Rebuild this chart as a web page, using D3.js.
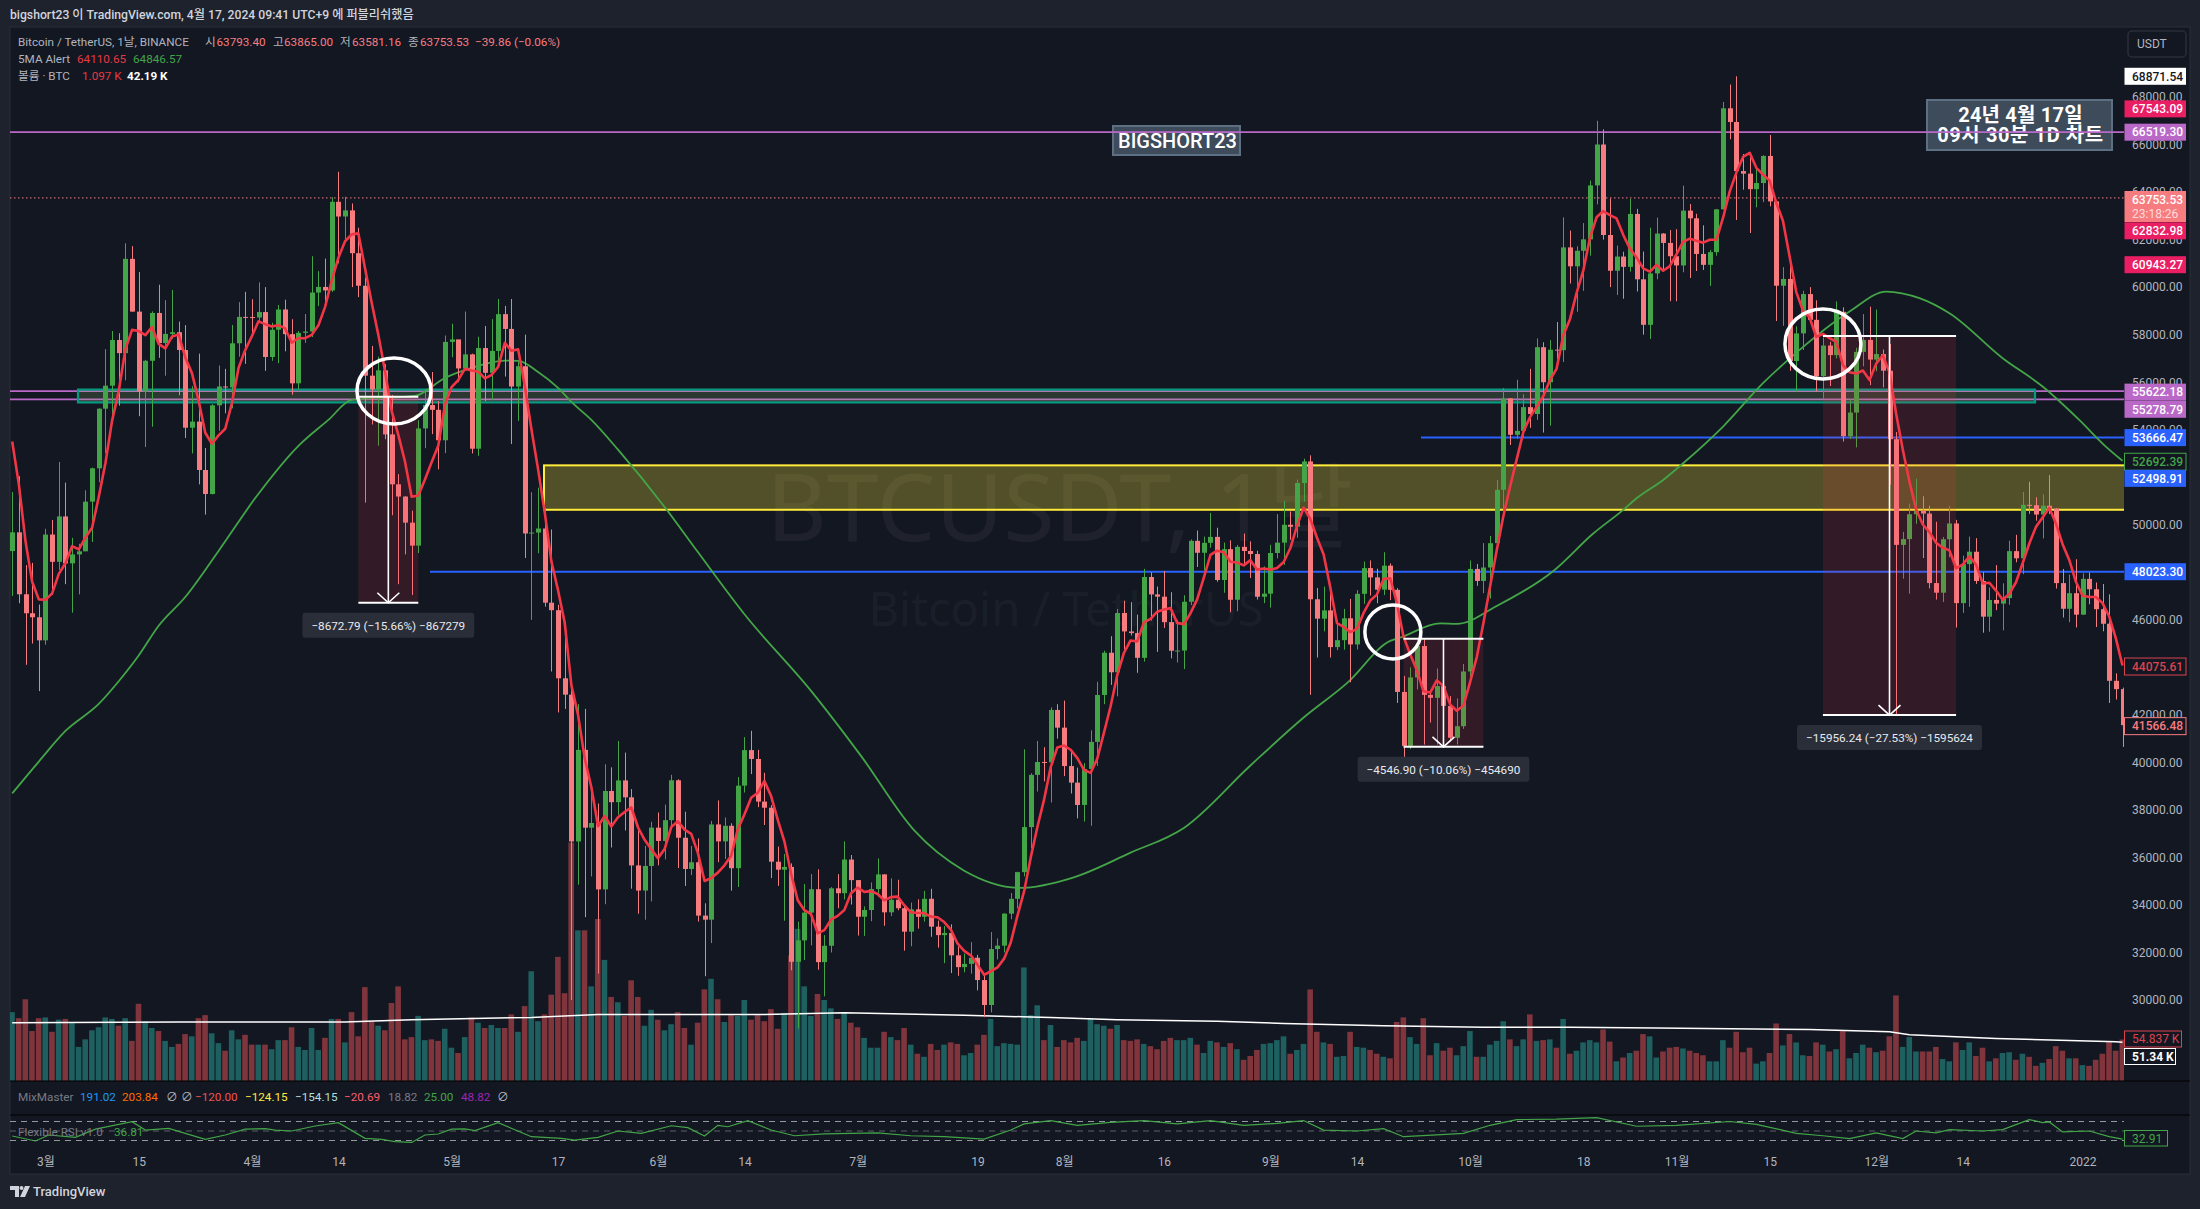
<!DOCTYPE html>
<html>
<head>
<meta charset="utf-8">
<script src="https://cdn.jsdelivr.net/npm/d3@7"></script>
<style>
  html, body { margin: 0; padding: 0; background: #1e222d; }
  svg { display: block; }
  text { font-family: Roboto, "Noto Sans CJK KR", sans-serif; }
</style>
</head>
<body>
<svg></svg>
<script>
// Daily candles, one line per month, starting on day 0 = 24 Feb 2021
const opens = [
48891,49680,47074,46276,46106,
45135,49587,48440,50349,48374,48751,48882,50971,52375,54884,55851,57773,57221,61188,58968,55605,56900,58912,57648,58030,58102,57351,54083,54340,52303,51293,55025,55817,55777,57635,58746,
58740,58720,58950,57059,58206,59058,58020,55950,58077,58131,59770,60007,59860,63589,62971,63229,61427,60058,56274,55696,56499,53801,51701,51187,50088,49121,54053,55036,54836,53555,
57694,57800,56578,57169,53200,57436,56393,57314,58862,58240,55816,56670,49631,49670,49841,46720,46404,43538,42849,36671,40526,37252,37449,34655,38796,38324,39241,38529,35664,34605,35641,
37253,36693,37568,39246,36829,35513,35796,33552,33380,37388,36675,37331,35546,39020,40516,40144,38349,38092,35820,35483,35600,31608,32509,33678,34663,31594,32283,34700,34494,35911,
35045,33504,33786,34669,35286,33690,34220,33862,32875,33815,33502,34259,33086,32729,32820,31880,31383,31520,31778,30839,29790,32144,32287,33634,34258,35381,37276,39473,40016,40000,42206,
41461,39845,39147,38207,39723,40862,42836,44614,43792,46285,45510,45440,44399,47800,47068,46973,45901,44695,44705,46760,49322,48821,49239,49488,47674,48973,46843,49069,48895,48767,46970,
47100,48810,49246,49999,49915,51756,52663,46863,46048,46395,44850,45143,46063,44963,47092,48176,47783,47267,48278,47260,42965,40693,43574,44895,42840,42716,43208,42376,41035,41522,
43824,48141,47634,48200,49224,51471,55315,53785,53951,54949,54659,57471,55996,57367,57347,61672,60875,61528,62009,64280,66001,62193,60688,61286,60852,63078,60328,58413,60575,62253,61859,
61299,60911,63219,62896,61395,60937,61470,63273,67525,66947,64882,64774,64122,64380,65519,63606,60058,60344,56891,58052,59707,58622,56247,57541,57138,58960,53726,54721,57274,57776,
56950,57184,56480,53601,49152,49396,50441,50588,50471,47545,47140,49389,50053,46702,48343,48864,47632,46131,46834,46681,46914,48889,48588,50838,50821,50429,50801,50679,47543,46464,47120,
46216,47722,47286,46446,45833,43432,43082
];
const highs = [
51374,52041,48300,48394,46640,
49829,50200,52640,51773,49448,49200,51450,52402,54900,57387,58150,58058,61844,61724,60633,56938,58981,60100,59450,59880,58550,58400,55830,57200,53229,55073,56700,56559,58405,59368,59800,
59490,60200,60000,58500,59250,59470,58650,58153,58869,61300,60670,61200,63777,64854,63800,63520,62500,60408,57526,57076,56757,55460,52130,51200,50591,54400,55700,56428,55200,57963,
58458,57200,58973,57200,57911,58360,58650,59500,59210,59500,56862,58000,51367,51560,50700,49800,46631,45800,43546,42451,42250,38850,38270,39920,39791,40900,40411,38877,37338,36488,37499,
37894,38225,39476,39289,37925,36480,36800,34068,37534,38400,37680,37436,39380,41064,41330,40527,39559,38200,36457,36139,35750,33298,34881,35298,35500,32730,34749,35297,36675,36100,
35036,33939,34945,35960,35293,35118,35059,33929,34100,34238,34592,34678,33340,33114,33185,32250,31950,32435,31899,31063,32858,32591,33650,34500,35398,40550,39542,40900,40640,42316,42448,
42599,40480,39780,39969,41350,43392,44700,45310,46454,46800,46743,46218,48144,48000,47400,48053,47160,46000,47033,49382,49757,49500,50500,49875,49250,49345,49149,49632,49300,48906,48246,
49156,50450,51000,50558,51900,52780,52920,47340,47399,47250,45970,46460,46880,47250,48450,48500,48150,48843,48372,47333,43639,44000,44978,45200,42966,43950,44350,42787,42690,44141,
48495,48350,49228,49530,51886,55750,55332,56100,55489,56561,57839,57680,57777,58532,62933,62379,61720,62695,64486,67000,66639,63732,61747,61490,63710,63293,61496,62499,62927,62274,62400,
62437,64270,63500,63086,62600,61560,63286,67789,68524,68871.54,65600,65450,65000,65550,66401,63500,60840,60977,58351,59845,60000,59444,57875,57700,59398,59150,55280,57445,58865,59176,
59053,57375,57600,53904,49699,50890,51936,51200,50797,50125,49485,50797,50205,48700,49500,49436,48004,47360,48300,47537,49328,49576,51375,51810,51156,51280,52088,50704,48139,47900,48548,
47954,47990,47570,47505,47070,43748,43145
];
const lows = [
47003,46700,44106,45000,43000,
44950,47047,48100,47500,46300,47070,48882,49274,51789,53005,54272,55013,56078,58966,54568,53271,54124,57023,56270,57820,55450,53650,53000,51700,50427,51278,53950,54691,54900,57072,56769,
57935,58500,56478,56900,56800,57300,55473,55700,57654,57900,59200,59369,59800,61000,62000,60000,59580,50931,54220,53329,53600,50400,47500,48753,47044,48807,53222,53813,52330,53013,
57050,56000,56488,53000,52900,55200,55241,56900,56235,53400,54370,48600,46000,48800,46555,43825,42103,42250,30000,34850,33488,35200,31111,34031,36419,37800,37134,34684,33632,33379,34153,
35666,35920,37170,35555,34800,35258,33300,31000,32396,35800,35936,34600,34757,38730,39506,38116,37365,35129,34803,33336,31251,28805,31683,32300,31275,30151,32000,33862,34231,34017,
32711,32699,33316,34357,33125,33532,33777,32077,32261,33004,33300,32660,32203,31550,31133,31020,31164,31108,30407,29278,29482,31708,32000,33401,33851,35205,36383,38772,39200,38313,41000,
39422,38690,37642,37508,37332,39853,42450,43261,42780,44750,45341,43770,44240,45971,44650,45660,44376,44203,43927,46622,48222,48070,49029,47600,47138,46315,46360,48300,47762,46853,46700,
46512,48584,48316,49370,49450,50969,42843,44412,45513,44412,44722,44742,43370,44750,46670,47020,46700,47044,46830,42500,39600,40565,43069,40750,41675,40750,42098,40888,40753,41410,
43283,47430,47120,46891,49020,50382,53357,53617,53661,54080,54415,53879,54167,56818,56850,60150,58963,59844,61322,63481,62000,60000,59668,59510,60650,59817,58000,57820,60329,60720,59405,
59405,60624,60382,60677,60721,60050,61322,63273,66222,62822,64100,62278,63360,63576,63400,58574,58373,56474,55600,57353,58486,55610,55317,55837,57000,53500,53610,53256,56666,55875,
56458,55777,51680,42000,47727,47100,50039,48600,47320,46852,46751,48633,45672,46290,46547,47511,45456,45500,46406,45558,46630,48421,47920,50459,50171,49426,50449,47313,46096,45900,45678,
46208,46654,45696,45516,42500,42645,40650
];
const closes = [
49680,47074,46276,46106,45135,
49587,48440,50349,48374,48751,48882,50971,52375,54884,55851,57773,57221,61188,58968,55605,56900,58912,57648,58030,58102,57351,54083,54340,52303,51293,55025,55817,55777,57635,58746,58740,
58720,58950,57059,58206,59058,58020,55950,58077,58131,59770,60007,59860,63589,62971,63229,61427,60058,56274,55696,56499,53801,51701,51187,50088,49121,54053,55036,54836,53555,57694,
57800,56578,57169,53200,57436,56393,57314,58862,58240,55816,56670,49631,49670,49841,46720,46404,43538,42849,36671,40526,37252,37449,34655,38796,38324,39241,38529,35664,34605,35641,37253,
36693,37568,39246,36829,35513,35796,33552,33380,37388,36675,37331,35546,39020,40516,40144,38349,38092,35820,35483,35600,31608,32509,33678,34663,31594,32283,34700,34494,35911,35045,
33504,33786,34669,35286,33690,34220,33862,32875,33815,33502,34259,33086,32729,32820,31880,31383,31520,31778,30839,29790,32144,32287,33634,34258,35381,37276,39473,40016,40000,42206,41461,
39845,39147,38207,39723,40862,42836,44614,43792,46285,45510,45440,44399,47800,47068,46973,45901,44695,44705,46760,49322,48821,49239,49488,47674,48973,46843,49069,48895,48767,46970,47100,
48810,49246,49999,49915,51756,52663,46863,46048,46395,44850,45143,46063,44963,47092,48176,47783,47267,48278,47260,42965,40693,43574,44895,42840,42716,43208,42376,41035,41522,43824,
48141,47634,48200,49224,51471,55315,53785,53951,54949,54659,57471,55996,57367,57347,61672,60875,61528,62009,64280,66001,62193,60688,61286,60852,63078,60328,58413,60575,62253,61859,61299,
60911,63219,62896,61395,60937,61470,63273,67525,66947,64882,64774,64122,64380,65519,63606,60058,60344,56891,58052,59707,58622,56247,57541,57138,58960,53726,54721,57274,57776,56950,
57184,56480,53601,49152,49396,50441,50588,50471,47545,47140,49389,50053,46702,48343,48864,47632,46131,46834,46681,46914,48889,48588,50838,50821,50429,50801,50679,47543,46464,47120,46216,
47722,47286,46446,45833,43432,43082,41566
];
// Volume in thousands of BTC
const volumes = [
91,83,108,66,83,
84,65,81,82,78,45,55,67,71,84,82,73,83,53,102,79,70,66,53,45,49,62,59,83,87,63,
50,40,67,55,61,48,48,48,42,54,54,71,45,41,70,41,57,82,82,51,91,59,124,78,73,67,103,125,55,58,86,54,55,53,69,
44,37,58,84,77,70,74,70,70,88,65,99,145,79,88,114,164,116,315,199,199,125,214,160,111,104,86,133,111,73,94,
81,67,75,91,70,48,77,121,135,108,78,87,86,107,81,87,79,95,69,90,166,201,125,86,115,107,96,82,90,77,
71,57,44,44,65,58,54,70,48,36,32,49,41,48,51,49,34,37,48,61,82,46,50,49,48,150,87,100,54,74,45,
54,51,57,53,83,75,73,69,74,54,53,55,49,46,42,53,57,54,54,57,48,37,53,51,45,50,42,28,33,41,49,
50,54,59,36,41,49,121,65,51,49,32,33,65,45,44,41,36,32,30,78,84,58,49,83,34,50,40,44,34,46,
66,32,32,48,53,79,55,46,55,88,53,54,55,44,82,36,40,51,54,51,68,52,26,31,37,40,62,59,31,39,44,
45,43,40,37,34,26,26,54,44,65,38,44,23,26,37,76,47,62,51,34,33,51,48,39,42,66,30,37,48,44,
38,40,59,113,45,58,39,39,39,45,29,26,51,41,51,33,44,26,30,37,38,28,36,32,20,24,29,46,40,30,30,
21,20,28,36,52,40,54.8
];
// Red 5MA line, one value per candle
const ma5 = [
53500,51700,49300,47600,46860,
46840,47110,47930,48380,49100,48960,49460,49870,51170,52590,54370,55620,57380,58200,58150,57980,58320,57610,57420,57920,58010,57040,56380,55230,53870,53410,
53760,54040,55110,56600,57350,57930,58560,58440,58340,58400,58260,57660,57860,57850,57990,58390,59170,60270,61240,61930,62220,62260,60790,59340,57990,56470,54790,53780,52660,51180,51230,51900,52630,53320,55040,
55790,56090,56560,56490,56440,56160,56300,56640,57650,57320,57380,55840,54010,52330,50510,48450,47230,45870,43240,42000,40170,38950,37310,37740,37300,37690,37910,38110,37270,36740,36340,
35970,36350,37280,37520,37170,36990,36190,35010,35130,35360,35670,36070,37190,37820,38510,38720,39220,38580,37580,36670,35320,34200,33780,33610,32810,32940,33380,33540,33790,34490,
34730,34550,34580,34460,34190,34330,34350,33990,33690,33660,33660,33510,33480,33280,32960,32380,32070,31880,31480,31060,31210,31370,31740,32420,33540,34570,36000,37280,38430,39800,40630,
40710,40530,40180,39680,39560,40160,41250,42360,43680,44610,45130,45090,45890,46040,46340,46430,46490,45870,45810,46280,46860,47770,48730,48910,48840,48440,48410,48290,48510,48110,48160,
48110,48180,48430,49020,49950,50720,50240,49450,48750,47360,45860,45700,45480,45620,46290,46810,47060,47720,47750,46710,45290,44550,43880,42990,42940,43450,43210,42440,42170,42390,
43380,44430,45860,47400,48930,50370,51600,52750,53900,54530,54960,55410,56090,56570,57970,58650,59760,60690,62070,62940,63200,63030,62890,62200,61620,61250,60790,60650,60930,60690,60880,
61380,61910,62040,61950,61870,61990,62000,62920,64030,64820,65480,65650,65020,64730,64480,63540,62780,61280,59790,59010,58720,57900,58030,57850,57700,56720,56420,56360,56490,56090,
56780,57130,56400,54670,53160,51810,50640,50010,49690,49240,49030,48920,48170,48320,48670,48320,47530,47560,47230,46840,47090,47580,48380,49210,49910,50300,50710,50050,49180,48520,47600,
47010,46960,46960,46700,46140,45220,44075.61
];
// Green long average, read at points along the line
const maLongDays = [0,4,8,13,16,19,22,26,31,37,43,47.5,51,60.5,65,69,74,76,79,82,84,87,91,98,103,110,120,127.5,135.5,143,151.5,159,168,176,186,194,200.5,207,208.5,214.5,217,223,231.5,237.5,242,244,248,251,257,263,268.5,276,281.5,286.5,291,299,305,310.5,314.5,317];
const maLongValues = [38695,40034,41321,42458,43413,44495,45750,46961,48899,51305,53320,54411,55253,55421,56175,56600,56906,56894,56431,55757,55168,54411,53160,50749,48850,46233,43010,40274,37134,35442,34718,35118,36199,37243,39869,41886,43333,45110,45248,45846,45825,46582,48054,49630,50627,51114,51886,52587,54132,55955,57357,58971,59812,59533,58900,57007,55816,54411,53289,52692];
// Volume average
const volMaDays = [0,25,50,60,78,88,113,125,143,153,156,166,181,191,206,221,234,247,270,282,285,298,316,317];
const volMaValues = [77,78,78,81,84,88,88,90,87,84.5,84,81,79,76,73,71,71,70,68,65,61,56,52,51.34];
// Flexible RSI
const rsiDays = [0,3.5,5.5,9.5,12.5,18,20,23.5,29,32,35,38,39.5,42,45.5,49,53,55.5,57.5,60,62,64,66,68,69.5,73,78,82.5,84.5,88,91,94.5,99,101.5,104,106,107.5,110.5,114,117.5,122,130,135,140,146,150,152,156,160,165,170,175,180,185,190,194,197,202,206,209,214,218,222,226,232,238,244,250,258,262,268,272,276,280,284,286,289,291,296,299,303,305,306,308,312,315,317];
const rsiValues = [39.5,29,41.6,36.7,54,69.6,52,55.6,32.5,41.6,54,55,52,50,60.5,67.5,34.6,32.5,27.5,26,41.6,43.7,54,54.5,50.7,67.5,38,34.6,31,36.7,50,45,61,57,39.5,62,59,71.7,52,40,44,46,40,38,33,52,65,72,62,68,72,65,72,62,66,72,52,50,55,38,42,45,62,74,75,78,60,62,70,64,45,40,34,46,34,50,46,53,50,53,74,67.7,69,48,50,38,32.91];
// Axis ticks (the ones under a price tag stay out)
const priceTicks = [68000,66000,64000,62000,60000,58000,56000,54000,50000,46000,42000,40000,38000,36000,34000,32000,30000];
const timeDays = [5,19,36,49,66,82,97,110,127,145,158,173,189,202,219,236,250,264,280,293,311];
const timeLabels = ["3월","15","4월","14","5월","17","6월","14","7월","19","8월","16","9월","14","10월","18","11월","15","12월","14","2022"];
// Price levels of the drawn lines
const purpleLevels = [66519.30,55622.18,55278.79];
const lastPrice = 63753.53;

// Declare the chart dimensions.
const width = 2200;
const height = 1209;
const paneLeft = 10;
const paneRight = 2124;
const paneTop = 27;
const frameRight = 2190;
const frameBottom = 1174;
const volumeBottom = 1081;
const mixBottom = 1115;

const upColor = "#43a548";
const downColor = "#f77c80";
const tagFont = 12;

// Declare the scales.
const x = d3.scaleLinear([0, 317], [12.2, 2122.5]);
const y = d3.scaleLinear([30000, 68000], [1000, 97]);
const yVolume = d3.scaleLinear([0, 100], [volumeBottom, volumeBottom - 75.7]);
const yRsi = d3.scaleLinear([30, 70], [1140.5, 1121.5]);

const svg = d3.select("svg")
    .attr("width", width)
    .attr("height", height)
    .attr("viewBox", [0, 0, width, height]);

// Frame and panes
svg.append("rect").attr("width", width).attr("height", height).attr("fill", "#1e222d");
svg.append("rect")
    .attr("x", paneLeft).attr("y", paneTop)
    .attr("width", frameRight - paneLeft).attr("height", frameBottom - paneTop)
    .attr("fill", "#131722")
    .attr("stroke", "#2a2e39")
    .attr("stroke-width", 1);

svg.append("defs").append("clipPath").attr("id", "plot")
    .append("rect")
    .attr("x", paneLeft).attr("y", paneTop)
    .attr("width", paneRight - paneLeft).attr("height", volumeBottom - paneTop);

const plot = svg.append("g").attr("clip-path", "url(#plot)");

// Watermark
plot.append("text")
    .attr("x", 1060).attr("y", 541)
    .attr("text-anchor", "middle")
    .attr("font-size", 93)
    .attr("fill", "#ffffff").attr("fill-opacity", 0.05)
    .style("font-family", "'Noto Sans', 'Noto Sans CJK KR', sans-serif")
    .text("BTCUSDT, 1날");
plot.append("text")
    .attr("x", 1066).attr("y", 626)
    .attr("text-anchor", "middle")
    .attr("font-size", 47)
    .attr("fill", "#ffffff").attr("fill-opacity", 0.05)
    .style("font-family", "'Noto Sans', sans-serif")
    .text("Bitcoin / TetherUS");

// Yellow zone, its right edge runs off the pane
plot.append("rect")
    .attr("x", 544).attr("y", y(52498.91))
    .attr("width", paneRight + 10 - 544).attr("height", y(50630) - y(52498.91))
    .attr("fill", "#ffeb3b").attr("fill-opacity", 0.27)
    .attr("stroke", "#ffeb3b").attr("stroke-width", 2);

// Text boxes
const boxes = [
    {x0: 1113, y0: 126, x1: 1240, y1: 155, lines: ["BIGSHORT23"], size: 20, weight: 500, spacing: [0], first: 148},
    {x0: 1927, y0: 100, x1: 2112, y1: 150, lines: ["24년 4월 17일", "09시 30분 1D 차트"], size: 20, weight: 700, spacing: [0.2, 0.6], first: 122}
];
boxes.forEach(b => {
    plot.append("rect")
        .attr("x", b.x0).attr("y", b.y0)
        .attr("width", b.x1 - b.x0).attr("height", b.y1 - b.y0)
        .attr("fill", "#3d4b5a").attr("stroke", "#5d7083").attr("stroke-width", 2);
    b.lines.forEach((line, i) => plot.append("text")
        .attr("x", (b.x0 + b.x1) / 2 + 1).attr("y", b.first + i * 20)
        .attr("text-anchor", "middle")
        .attr("font-size", b.size).attr("font-weight", b.weight)
        .attr("letter-spacing", b.spacing[i])
        .attr("fill", "#ffffff")
        .text(line));
});

// Horizontal levels
plot.selectAll(".purple").data(purpleLevels).join("line")
    .attr("x1", paneLeft).attr("x2", paneRight)
    .attr("y1", d => y(d)).attr("y2", d => y(d))
    .attr("stroke", "#ba68c8").attr("stroke-width", 1.8);
plot.append("line")
    .attr("x1", paneLeft).attr("x2", paneRight)
    .attr("y1", y(lastPrice)).attr("y2", y(lastPrice))
    .attr("stroke", downColor).attr("stroke-width", 1).attr("stroke-dasharray", "1.5,2.5");
plot.append("line")
    .attr("x1", 1421).attr("x2", paneRight)
    .attr("y1", y(53666.47)).attr("y2", y(53666.47))
    .attr("stroke", "#2962ff").attr("stroke-width", 2);
plot.append("line")
    .attr("x1", 430).attr("x2", paneRight)
    .attr("y1", y(48023.30)).attr("y2", y(48023.30))
    .attr("stroke", "#2962ff").attr("stroke-width", 2);

// Teal zone sits on the purple lines
plot.append("rect")
    .attr("x", 78).attr("y", 389.6)
    .attr("width", 2035 - 78).attr("height", 12.8)
    .attr("fill", "#7fb069").attr("fill-opacity", 0.22)
    .attr("stroke", "#089981").attr("stroke-width", 2.2);

// Volume bars
plot.append("g").selectAll("rect")
    .data(volumes)
    .join("rect")
    .attr("x", (d, i) => x(i) - 3)
    .attr("width", 5.6)
    .attr("y", d => yVolume(d))
    .attr("height", d => volumeBottom - yVolume(d))
    .attr("fill", (d, i) => closes[i] < opens[i] ? "#7f353b" : "#1e5f5f");

// Volume average
plot.append("path")
    .attr("fill", "none").attr("stroke", "#ffffff").attr("stroke-width", 1.5)
    .attr("d", d3.line().x(d => x(d)).y((d, i) => yVolume(volMaValues[i]))(volMaDays));

// Green long average
plot.append("path")
    .attr("fill", "none").attr("stroke", "#43a548").attr("stroke-width", 1.8)
    .attr("d", d3.line().x(d => x(d)).y((d, i) => y(maLongValues[i])).curve(d3.curveMonotoneX)(maLongDays));

// Candles
const candles = plot.append("g").selectAll("g")
    .data(closes)
    .join("g")
    .attr("fill", (d, i) => d < opens[i] ? downColor : upColor);
candles.append("rect")
    .attr("x", (d, i) => Math.round(x(i)))
    .attr("width", 1)
    .attr("y", (d, i) => y(highs[i]))
    .attr("height", (d, i) => y(lows[i]) - y(highs[i]));
candles.append("rect")
    .attr("x", (d, i) => Math.round(x(i)) - 2)
    .attr("width", 5)
    .attr("y", (d, i) => y(Math.max(opens[i], d)))
    .attr("height", (d, i) => Math.max(1, Math.abs(y(opens[i]) - y(d))));

// Red 5MA
plot.append("path")
    .attr("fill", "none").attr("stroke", "#f23645").attr("stroke-width", 2.6).attr("stroke-linejoin", "round")
    .attr("d", d3.line().x((d, i) => x(i)).y(d => y(d))(ma5));

// Measure tools: day span, price span and label
const measures = [
    {from: 52, to: 61, mid: 56.5, top: 55390, bottom: 46717, label: "−8672.79 (−15.66%) −867279"},
    {from: 209, to: 221, mid: 215, top: 45202, bottom: 40655, label: "−4546.90 (−10.06%) −454690"},
    {from: 272, to: 292, mid: 282, top: 57946, bottom: 41990, label: "−15956.24 (−27.53%) −1595624"}
];
measures.forEach(m => {
    const g = plot.append("g");
    g.append("rect")
        .attr("x", x(m.from)).attr("y", y(m.top))
        .attr("width", x(m.to) - x(m.from)).attr("height", y(m.bottom) - y(m.top))
        .attr("fill", "#f23645").attr("fill-opacity", 0.14);
    [m.top, m.bottom].forEach(p => g.append("line")
        .attr("x1", x(m.from)).attr("x2", x(m.to))
        .attr("y1", y(p)).attr("y2", y(p))
        .attr("stroke", "#fff").attr("stroke-width", 2));
    g.append("line")
        .attr("x1", x(m.mid)).attr("x2", x(m.mid))
        .attr("y1", y(m.top)).attr("y2", y(m.bottom))
        .attr("stroke", "#fff").attr("stroke-width", 1.6);
    g.append("path")
        .attr("fill", "none").attr("stroke", "#fff").attr("stroke-width", 1.6)
        .attr("d", `M${x(m.mid) - 11},${y(m.bottom) - 10}L${x(m.mid)},${y(m.bottom)}L${x(m.mid) + 11},${y(m.bottom) - 10}`);
    const text = g.append("text")
        .attr("x", x(m.mid)).attr("y", y(m.bottom) + 27)
        .attr("text-anchor", "middle")
        .attr("font-size", 11.7)
        .attr("fill", "#e8eaf0")
        .text(m.label);
    const w = text.node().getComputedTextLength() + 18;
    g.insert("rect", "text")
        .attr("x", x(m.mid) - w / 2).attr("y", y(m.bottom) + 10)
        .attr("width", w).attr("height", 25).attr("rx", 3)
        .attr("fill", "#2a2e39");
});

// Hand drawn circles
const circles = [
    {day: 57.35, price: 55630, rx: 37, ry: 33},
    {day: 207.4, price: 45490, rx: 28, ry: 27},
    {day: 272, price: 57610, rx: 38, ry: 35}
];
plot.selectAll(".ring").data(circles).join("ellipse")
    .attr("cx", d => x(d.day)).attr("cy", d => y(d.price))
    .attr("rx", d => d.rx).attr("ry", d => d.ry)
    .attr("fill", "none").attr("stroke", "#fff").attr("stroke-width", 3.5);

// Price axis
svg.append("g")
    .attr("transform", `translate(${paneRight},0)`)
    .call(d3.axisRight(y).tickValues(priceTicks).tickFormat(d3.format(".2f")).tickSize(0).tickPadding(8))
    .call(g => g.select(".domain").remove())
    .call(g => g.selectAll("text").attr("font-size", tagFont).attr("fill", "#b2b5be").style("font-family", "Roboto"));

const tagGroup = svg.append("g");

// Current price tag with countdown, the pink tag below sits over it
tagGroup.append("rect")
    .attr("x", paneRight + 0.5).attr("y", 191).attr("width", 61.5).attr("height", 31)
    .attr("fill", downColor);
tagGroup.append("text").attr("x", paneRight + 8).attr("y", 204)
    .attr("font-size", tagFont).attr("font-weight", 500).attr("fill", "#fff").text("63753.53");
tagGroup.append("text").attr("x", paneRight + 8).attr("y", 218)
    .attr("font-size", tagFont).attr("fill", "#ffd9da").text("23:18:26");

// Price tags
const tags = [
    {text: "68871.54", price: 68871.54, fill: "#ffffff", color: "#131722"},
    {text: "67543.09", price: 67543.09, shift: 1, fill: "#e91e63", color: "#fff"},
    {text: "66519.30", price: 66519.30, fill: "#ba68c8", color: "#fff"},
    {text: "62832.98", price: 62832.98, shift: 11, fill: "#e91e63", color: "#fff"},
    {text: "60943.27", price: 60943.27, fill: "#e91e63", color: "#fff"},
    {text: "55622.18", price: 55622.18, shift: 1, fill: "#ba68c8", color: "#fff"},
    {text: "55278.79", price: 55278.79, shift: 10, fill: "#ba68c8", color: "#fff"},
    {text: "53666.47", price: 53666.47, fill: "#2962ff", color: "#fff"},
    {text: "52692.39", price: 52692.39, shift: 1, fill: "#131722", color: "#43a548", line: "#43a548"},
    {text: "52498.91", price: 52498.91, shift: 13, fill: "#2962ff", color: "#fff"},
    {text: "48023.30", price: 48023.30, fill: "#2962ff", color: "#fff"},
    {text: "44075.61", price: 44075.61, shift: 1, fill: "#131722", color: "#d9444f", line: "#d9444f"},
    {text: "41566.48", price: 41566.48, shift: 1, fill: "#131722", color: downColor, line: downColor}
];
const tagRows = tagGroup.append("g").selectAll("g").data(tags).join("g");
tagRows.append("rect")
    .attr("x", paneRight + 0.5).attr("width", 61.5)
    .attr("y", d => y(d.price) + (d.shift || 0) - 8.5).attr("height", 17)
    .attr("fill", d => d.fill).attr("stroke", d => d.line || "none");
tagRows.append("text")
    .attr("x", paneRight + 8).attr("y", d => y(d.price) + (d.shift || 0) + 4.3)
    .attr("font-size", tagFont).attr("font-weight", 500)
    .attr("fill", d => d.color)
    .text(d => d.text);

// Volume tags
tagGroup.append("rect").attr("x", paneRight + 0.5).attr("y", 1031).attr("width", 57).attr("height", 16)
    .attr("fill", "#131722").attr("stroke", "#d9444f");
tagGroup.append("text").attr("x", paneRight + 8).attr("y", 1043)
    .attr("font-size", tagFont).attr("fill", "#d9444f").text("54.837 K");
tagGroup.append("rect").attr("x", paneRight + 0.5).attr("y", 1048.5).attr("width", 51).attr("height", 16)
    .attr("fill", "#131722").attr("stroke", "#fff");
tagGroup.append("text").attr("x", paneRight + 8).attr("y", 1060.5)
    .attr("font-size", tagFont).attr("font-weight", 700).attr("fill", "#fff").text("51.34 K");

// USDT button
svg.append("rect").attr("x", 2128).attr("y", 31).attr("width", 58).attr("height", 26).attr("rx", 4)
    .attr("fill", "none").attr("stroke", "#2a2e39").attr("stroke-width", 1.5);
svg.append("text").attr("x", 2137).attr("y", 48).attr("font-size", 12).attr("fill", "#b2b5be").text("USDT");

// Pane separators
[volumeBottom, mixBottom].forEach(p => svg.append("line")
    .attr("x1", paneLeft).attr("x2", frameRight)
    .attr("y1", p).attr("y2", p)
    .attr("stroke", "#000").attr("stroke-width", 1));

// RSI pane
[70, 50, 30].forEach(v => svg.append("line")
    .attr("x1", paneLeft).attr("x2", paneRight)
    .attr("y1", yRsi(v)).attr("y2", yRsi(v))
    .attr("stroke", v === 50 ? "#5d606b" : "#9598a1").attr("stroke-width", 1).attr("stroke-dasharray", "6,5"));
svg.append("path")
    .attr("fill", "none").attr("stroke", "#43a548").attr("stroke-width", 1.2)
    .attr("d", d3.line().x(d => x(d)).y((d, i) => yRsi(rsiValues[i]))(rsiDays));
svg.append("rect").attr("x", paneRight + 0.5).attr("y", 1130.5).attr("width", 43).attr("height", 15.5)
    .attr("fill", "#131722").attr("stroke", "#43a548");
svg.append("text").attr("x", paneRight + 8).attr("y", 1142.5).attr("font-size", tagFont).attr("fill", "#43a548").text("32.91");

// Time axis
svg.append("g")
    .attr("transform", `translate(0,1154)`)
    .call(d3.axisBottom(x).tickValues(timeDays).tickFormat((d, i) => timeLabels[i]).tickSize(0).tickPadding(3))
    .call(g => g.select(".domain").remove())
    .call(g => g.selectAll("text").attr("font-size", 12).attr("fill", "#b2b5be")
        .style("font-family", "Roboto, 'Noto Sans CJK KR'"));

// Legend rows, each run placed at its own x
function run(yText, parts, size = 11.7) {
    parts.forEach(([s, color, xText, weight]) => svg.append("text")
        .attr("x", xText).attr("y", yText)
        .attr("font-size", size)
        .attr("fill", color)
        .attr("font-weight", weight || 400)
        .text(s));
}
const grey = "#b2b5be";
run(19, [["bigshort23 이 TradingView.com, 4월 17, 2024 09:41 UTC+9 에 퍼블리쉬했음", "#d1d4dc", 10, 500]], 12.2);
run(46, [
    ["Bitcoin / TetherUS, 1날, BINANCE", grey, 18], ["시", grey, 205], ["63793.40", downColor, 216.5],
    ["고", grey, 273], ["63865.00", downColor, 284], ["저", grey, 340], ["63581.16", downColor, 352],
    ["종", grey, 408], ["63753.53", downColor, 420], ["−39.86 (−0.06%)", downColor, 475]
]);
run(63, [["5MA Alert", grey, 18], ["64110.65", "#e53943", 77], ["64846.57", "#43a548", 133]]);
run(80, [["볼륨 · BTC", grey, 18], ["1.097 K", "#e53943", 82], ["42.19 K", "#ffffff", 127, 700]]);
run(1101, [
    ["MixMaster", "#787b86", 18], ["191.02", "#2196f3", 80], ["203.84", "#ff6d00", 122], ["∅", "#b2b5be", 166], ["∅", "#b2b5be", 181],
    ["−120.00", "#ef5350", 195], ["−124.15", "#ffeb3b", 245], ["−154.15", "#b2dfdb", 295], ["−20.69", "#ff5c6c", 344],
    ["18.82", "#787b86", 388], ["25.00", "#43a548", 424], ["48.82", "#9c27b0", 461], ["∅", "#b2b5be", 497]
]);
run(1135.5, [["Flexible RSI v1.0", "#787b86", 18], ["36.81", "#43a548", 114]]);

// Footer logo and name
svg.append("path")
    .attr("fill", "#d1d4dc")
    .attr("d", "M10 1186h9v11h-4v-7h-5zM25 1186h5l-5 11h-5z");
svg.append("circle").attr("cx", 21.5).attr("cy", 1188).attr("r", 2).attr("fill", "#d1d4dc");
run(1196, [["TradingView", "#d1d4dc", 33, 500]], 13);
</script>
</body>
</html>
